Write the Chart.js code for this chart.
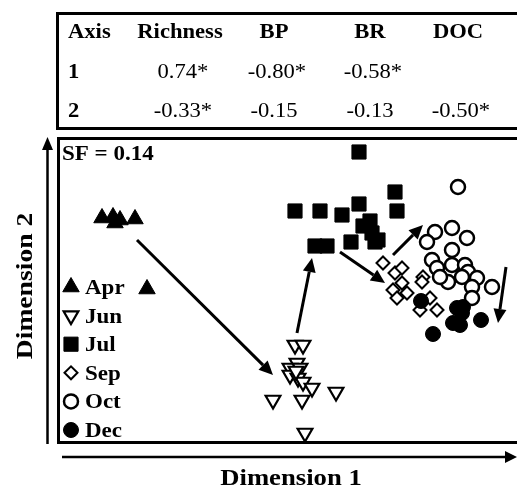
<!DOCTYPE html>
<html>
<head>
<meta charset="utf-8">
<script src="https://cdn.jsdelivr.net/npm/chart.js@4.4.1/dist/chart.umd.min.js"></script>
<style>
  html, body { margin: 0; padding: 0; background: #fff; overflow: hidden; }
  #wrap { position: relative; width: 517px; height: 495px; }
  #chart { position: absolute; left: 0; top: 0; }
  #loadings {
    position: absolute; left: 56px; top: 12px; width: 480px; height: 118px;
    box-sizing: border-box; border: 3px solid #000;
  }
  .cell {
    position: absolute; width: 120px; margin-left: -60px; text-align: center;
    font: 20px "Liberation Serif", "Times New Roman", serif; line-height: 20px;
    color: #000; white-space: nowrap; transform: scaleX(1.13);
  }
  .cell.b { font-weight: bold; }
  .cell.first { margin-left: 0; text-align: left; transform-origin: left center; }
</style>
</head>
<body>
<div id="wrap">
  <canvas id="chart" width="517" height="495"></canvas>
  <div id="loadings"></div>
</div>
<script>
// loadings table
const tableHeader = ['Axis', 'Richness', 'BP', 'BR', 'DOC'];
const axisLabels = ['1', '2'];
const axis1Loadings = ['0.74*', '-0.80*', '-0.58*', ''];
const axis2Loadings = ['-0.33*', '-0.15', '-0.13', '-0.50*'];

// NMDS scores (dimension 1, dimension 2)
const months = ['Apr', 'Jun', 'Jul', 'Sep', 'Oct', 'Dec'];
const aprScores = [[-1.85, 0.76], [-1.74, 0.77], [-1.72, 0.71], [-1.67, 0.74], [-1.52, 0.75], [-1.40, 0.05]];
const junScores = [[0.08, -0.51], [0.16, -0.51], [0.10, -0.69], [0.03, -0.74], [0.13, -0.74], [0.03, -0.81],
  [0.11, -0.84], [0.16, -0.88], [0.25, -0.94], [-0.14, -1.06], [0.15, -1.06], [0.49, -0.98], [0.18, -1.39], [0.09, -0.77]];
const julScores = [[0.72, 1.42], [1.08, 1.02], [0.08, 0.83], [0.33, 0.83], [0.55, 0.79], [0.72, 0.90], [1.10, 0.83],
  [0.83, 0.73], [0.76, 0.68], [0.85, 0.61], [0.91, 0.54], [0.88, 0.52], [0.28, 0.48], [0.40, 0.48], [0.64, 0.52]];
const sepScores = [[0.96, 0.31], [1.08, 0.21], [1.15, 0.26], [1.15, 0.11], [1.06, 0.04], [1.20, 0.01],
  [1.10, -0.04], [1.36, 0.17], [1.35, 0.12], [1.43, -0.04], [1.33, -0.16], [1.50, -0.16]];
const octScores = [[1.71, 1.07], [1.48, 0.62], [1.65, 0.66], [1.40, 0.52], [1.80, 0.56], [1.65, 0.44], [1.45, 0.34],
  [1.65, 0.29], [1.78, 0.29], [1.50, 0.26], [1.81, 0.22], [1.61, 0.12], [1.90, 0.16], [1.75, 0.17], [1.85, 0.07],
  [2.05, 0.07], [1.85, -0.04], [1.53, 0.17]];
const decScores = [[1.34, -0.07], [1.70, -0.14], [1.75, -0.19], [1.66, -0.29], [1.94, -0.26], [1.73, -0.31],
  [1.46, -0.40], [1.76, -0.13]];

// seasonal shift arrows
const arrowFrom = [[-1.50, 0.54], [0.10, -0.39], [0.53, 0.42], [1.06, 0.39], [2.19, 0.27]];
const arrowTo = [[-0.14, -0.81], [0.25, 0.36], [0.98, 0.11], [1.36, 0.69], [2.11, -0.29]];

const stressText = 'SF = 0.14';
const xTitle = 'Dimension 1';
const yTitle = 'Dimension 2';

// build table
const columnX = [68, 180, 274, 370, 458];
const rowBaseline = [38, 78, 117];
const tableBox = document.getElementById('loadings');
const addCell = (text, x, baseline, bold, first) => {
    const el = document.createElement('div');
    el.className = 'cell' + (bold ? ' b' : '') + (first ? ' first' : '');
    el.textContent = text;
    el.style.left = (x - 59) + 'px';
    el.style.top = (baseline - 17 - 15) + 'px';
    tableBox.appendChild(el);
};
tableHeader.forEach((h, i) => addCell(h, columnX[i], rowBaseline[0], true, i === 0));
[axis1Loadings, axis2Loadings].forEach((row, r) => {
    addCell(axisLabels[r], columnX[0], rowBaseline[r + 1], true, true);
    row.forEach((v, i) => {
        if (v) addCell(v, columnX[i + 1] + (v.endsWith('*') ? 3 : 0), rowBaseline[r + 1], false, false);
    });
});

const toPoints = arr => arr.map(p => ({ x: p[0], y: p[1] }));

const styles = [
    { pointStyle: 'triangle', pointRadius: 9.5, pointRotation: 0, pointBackgroundColor: '#000', pointBorderWidth: 1 },
    { pointStyle: 'triangle', pointRadius: 8.5, pointRotation: 180, pointBackgroundColor: '#fff', pointBorderWidth: 2.2 },
    { pointStyle: 'rect', pointRadius: 10, pointRotation: 0, pointBackgroundColor: '#000', pointBorderWidth: 1 },
    { pointStyle: 'rectRot', pointRadius: 6.5, pointRotation: 0, pointBackgroundColor: '#fff', pointBorderWidth: 2 },
    { pointStyle: 'circle', pointRadius: 7, pointRotation: 0, pointBackgroundColor: '#fff', pointBorderWidth: 2.5 },
    { pointStyle: 'circle', pointRadius: 7.5, pointRotation: 0, pointBackgroundColor: '#000', pointBorderWidth: 1 }
];
const scoreSets = [aprScores, junScores, julScores, sepScores, octScores, decScores];

const datasets = months.map((m, i) => Object.assign({
    label: m,
    data: toPoints(scoreSets[i]),
    pointBorderColor: '#000',
    pointHoverRadius: styles[i].pointRadius,
    order: months.length - i
}, styles[i]));

// text stretched along its baseline like the original figure
const stretchText = (ctx, text, x, y, sx, align, angle) => {
    ctx.save();
    ctx.translate(x, y);
    if (angle) ctx.rotate(angle);
    ctx.scale(sx, 1);
    ctx.textAlign = align;
    ctx.textBaseline = 'alphabetic';
    ctx.fillText(text, 0, 0);
    ctx.restore();
};

const drawArrow = (ctx, x1, y1, x2, y2, width, headLen, headHalf) => {
    const ang = Math.atan2(y2 - y1, x2 - x1);
    const bx = x2 - Math.cos(ang) * headLen;
    const by = y2 - Math.sin(ang) * headLen;
    ctx.lineWidth = width;
    ctx.beginPath();
    ctx.moveTo(x1, y1);
    ctx.lineTo(bx, by);
    ctx.stroke();
    ctx.beginPath();
    ctx.moveTo(x2, y2);
    ctx.lineTo(bx - Math.sin(ang) * headHalf, by + Math.cos(ang) * headHalf);
    ctx.lineTo(bx + Math.sin(ang) * headHalf, by - Math.cos(ang) * headHalf);
    ctx.closePath();
    ctx.fill();
};

const figurePlugin = {
    id: 'figure',
    beforeDatasetsDraw(chart) {
        const { ctx, chartArea: a } = chart;
        ctx.save();
        ctx.strokeStyle = '#000';
        ctx.fillStyle = '#000';
        // plot frame (right side runs off the page)
        ctx.lineWidth = 3;
        ctx.beginPath();
        ctx.moveTo(chart.width + 10, a.top + 1.5);
        ctx.lineTo(a.left + 1.5, a.top + 1.5);
        ctx.lineTo(a.left + 1.5, a.bottom - 1.5);
        ctx.lineTo(chart.width + 10, a.bottom - 1.5);
        ctx.stroke();
        // axis arrows
        drawArrow(ctx, a.left - 9.5, a.bottom, a.left - 9.5, a.top, 2.5, 13, 5.5);
        drawArrow(ctx, a.left + 5, a.bottom + 13, chart.width, a.bottom + 13, 2.5, 12, 6);
        // axis titles
        ctx.font = 'bold 23px "Liberation Serif", "Times New Roman", serif';
        stretchText(ctx, xTitle, 291, 485, 1.16, 'center');
        stretchText(ctx, yTitle, 32, 286, 1.2, 'center', -Math.PI / 2);
        // stress value
        ctx.font = 'bold 20px "Liberation Serif", "Times New Roman", serif';
        stretchText(ctx, stressText, a.left + 5, a.top + 23, 1.15, 'left');
        // legend
        chart.data.datasets.forEach((ds, i) => {
            const cy = a.top + 150 + i * 28.6;
            ctx.fillStyle = ds.pointBackgroundColor;
            ctx.strokeStyle = '#000';
            ctx.lineWidth = ds.pointBorderWidth;
            Chart.helpers.drawPoint(ctx, {
                pointStyle: ds.pointStyle,
                rotation: ds.pointRotation,
                radius: ds.pointRadius,
                borderWidth: ds.pointBorderWidth
            }, a.left + 14, cy);
            ctx.fillStyle = '#000';
            stretchText(ctx, ds.label, a.left + 28, cy + 7, 1.15, 'left');
        });
        ctx.restore();
    },
    afterDatasetsDraw(chart) {
        const { ctx, scales: { x, y } } = chart;
        ctx.save();
        ctx.strokeStyle = '#000';
        ctx.fillStyle = '#000';
        arrowFrom.forEach((p, i) => {
            const q = arrowTo[i];
            drawArrow(ctx, x.getPixelForValue(p[0]), y.getPixelForValue(p[1]),
                x.getPixelForValue(q[0]), y.getPixelForValue(q[1]), 3, 14, 6.5);
        });
        ctx.restore();
    }
};

new Chart(document.getElementById('chart'), {
    type: 'scatter',
    data: { datasets: datasets },
    options: {
        responsive: false,
        animation: false,
        devicePixelRatio: 1,
        events: [],
        layout: { autoPadding: false, padding: { left: 57, top: 137, right: 0, bottom: 51 } },
        scales: {
            x: { type: 'linear', min: -2.3, max: 2.3, display: false },
            y: { type: 'linear', min: -1.5, max: 1.57, display: false }
        },
        plugins: { legend: { display: false }, tooltip: { enabled: false } }
    },
    plugins: [figurePlugin]
});
</script>
</body>
</html>
